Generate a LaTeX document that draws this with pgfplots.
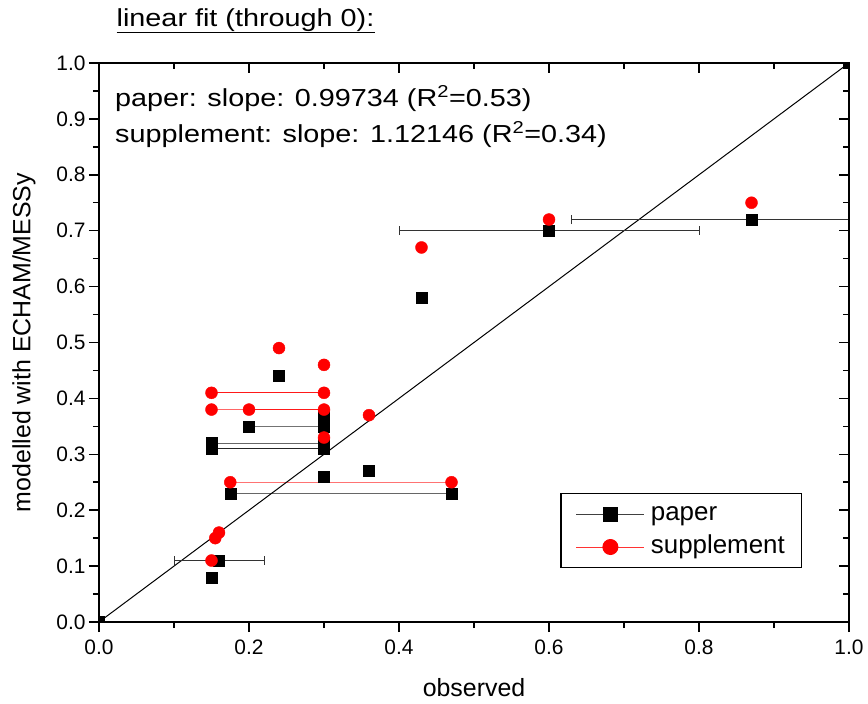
\documentclass[border=0pt]{standalone}
\usepackage{fontspec}
\setmainfont{Liberation Sans}
\newfontfamily\widefont[FakeStretch=1.17]{Liberation Sans}
\usepackage{pgfplots}
\usepackage{pgfplotstable}
\pgfplotsset{compat=1.18}

\newcommand\tickfont{\fontsize{21}{25}\selectfont}
\newcommand\labfont{\fontsize{25}{30}\selectfont}
\newcommand\legfont{\fontsize{26}{30}\selectfont}
\newcommand\annfont{\widefont\fontsize{24.7}{29}\selectfont}

% black squares without error bars
\pgfplotstableread{
x     y
0.15  0.08
0.175 0.23
0.47  0.23
0.3   0.26
0.36  0.27
0.15  0.31
0.15  0.32
0.3   0.31
0.3   0.32
0.2   0.35
0.3   0.35
0.3   0.37
0.24  0.44
0.43  0.58
}\paper

% black squares with x error bars
\pgfplotstableread{
x     y     ex
0.16  0.11  0.06
0.6   0.70  0.20
0.87  0.72  0.24
}\papererr

\pgfplotstableread{
x     y
0.15  0.11
0.155 0.15
0.16  0.16
0.175 0.25
0.47  0.25
0.3   0.33
0.36  0.37
0.15  0.38
0.2   0.38
0.3   0.38
0.15  0.41
0.3   0.41
0.3   0.46
0.24  0.49
0.43  0.67
0.6   0.72
0.87  0.75
}\supp

\pgfplotsset{
  frame/.style={
    scale only axis, width=750bp, height=559bp,
    xmin=0, xmax=1, ymin=0, ymax=1,
    axis line style={line width=1.8bp},
    xtick={0,0.2,0.4,0.6,0.8,1},
    minor xtick={0.1,0.3,0.5,0.7,0.9},
    ytick={0,0.1,0.2,0.3,0.4,0.5,0.6,0.7,0.8,0.9,1},
    minor ytick={0.05,0.15,0.25,0.35,0.45,0.55,0.65,0.75,0.85,0.95},
    major tick length=10bp, minor tick length=6bp,
    every tick/.style={black, line width=1.5bp},
  },
}

\begin{document}
\begin{tikzpicture}
\begin{axis}[
  frame,
  tick align=outside, xtick pos=left, ytick pos=left,
  ticklabel style={font=\tickfont,
    /pgf/number format/fixed, /pgf/number format/fixed zerofill,
    /pgf/number format/precision=1, /pgf/number format/assume math mode=true},
  xticklabel style={yshift=-4bp},
  xlabel={observed}, ylabel={modelled with ECHAM/MESSy},
  label style={font=\labfont},
  xlabel style={at={(axis description cs:0.5,-0.118)}, anchor=center},
  ylabel style={at={(axis description cs:-0.1,0.5)}, anchor=center},
  clip marker paths=true,
  legend style={at={(0.615,0.231)}, anchor=north west,
    draw=black, line width=1.3bp, font=\legfont,
    inner xsep=15bp, inner ysep=4bp, row sep=0bp,
    nodes={text height=19bp, text depth=6bp, inner ysep=4bp},
    /tikz/every odd column/.append style={column sep=4bp}},
  legend cell align=left,
  legend image code/.code={\draw[mark repeat=2,mark phase=2,#1]
    plot coordinates {(0bp,0bp)(34bp,0bp)(68bp,0bp)};},
]
\coordinate (bl) at (rel axis cs:0,0);
\coordinate (tr) at (rel axis cs:1,1);

% ranges of observed values
\addplot[forget plot, black!60, line width=1bp] coordinates {(0.175,0.23)(0.47,0.23)};
\addplot[forget plot, black!85, line width=1bp] coordinates {(0.15,0.31)(0.3,0.31)};
\addplot[forget plot, black!60, line width=1bp] coordinates {(0.15,0.32)(0.3,0.32)};
\addplot[forget plot, black!55, line width=1bp] coordinates {(0.2,0.35)(0.3,0.35)};
\addplot[forget plot, red!55, line width=1bp] coordinates {(0.175,0.25)(0.47,0.25)};
\addplot[forget plot, red!60, line width=1bp] coordinates {(0.15,0.38)(0.3,0.38)};
\addplot[forget plot, red!90, line width=1bp] coordinates {(0.2,0.38)(0.3,0.38)};
\addplot[forget plot, red!90, line width=1bp] coordinates {(0.15,0.41)(0.3,0.41)};

% 1:1 line
\addplot[forget plot, black, line width=1bp, mark=square*, mark size=6bp]
  coordinates {(0,0)(1,1)};

\addplot[forget plot, only marks, mark=square*, mark size=5.5bp, black,
  error bars/.cd, x dir=both, x explicit, error mark=|,
  error bar style={line width=1bp, black!80},
  error mark options={line width=1bp, black!80, mark size=4.5bp}]
  table[x=x, y=y, x error=ex] {\papererr};
\addplot[forget plot, only marks, mark=square*, mark size=5.5bp, black]
  table[x=x, y=y] {\paper};
\addplot[forget plot, only marks, mark=*, mark size=6bp, red]
  table[x=x, y=y] {\supp};

\addlegendimage{black!75, line width=1bp, mark=square*, mark size=7bp,
  mark options={black, solid}}
\addlegendentry{paper}
\addlegendimage{red!80, line width=1bp, mark=*, mark size=7.5bp,
  mark options={red, solid}}
\addlegendentry{supplement}
\end{axis}

% mirrored ticks on top and right, pointing inwards
\begin{axis}[
  frame,
  tick align=inside, xtick pos=right, ytick pos=right,
  xticklabels={}, yticklabels={},
]
\end{axis}

\node[anchor=base west, inner sep=0pt, font=\annfont] (ttl)
  at ([xshift=17.5bp,yshift=595bp]bl) {linear fit (through 0):};
\draw[line width=1.8bp] ([yshift=-5.5bp]ttl.base west) -- ([yshift=-5.5bp]ttl.base east);

\node[anchor=base west, inner sep=0pt, font=\annfont]
  at ([xshift=16bp,yshift=515bp]bl) {paper: slope: 0.99734 (R\textsuperscript{2}=0.53)};
\node[anchor=base west, inner sep=0pt, font=\annfont]
  at ([xshift=16bp,yshift=479bp]bl) {supplement: slope: 1.12146 (R\textsuperscript{2}=0.34)};

\pgfresetboundingbox
\path[use as bounding box] ([xshift=-99bp,yshift=-82bp]bl) rectangle ([xshift=19bp,yshift=63bp]tr);
\end{tikzpicture}
\end{document}
